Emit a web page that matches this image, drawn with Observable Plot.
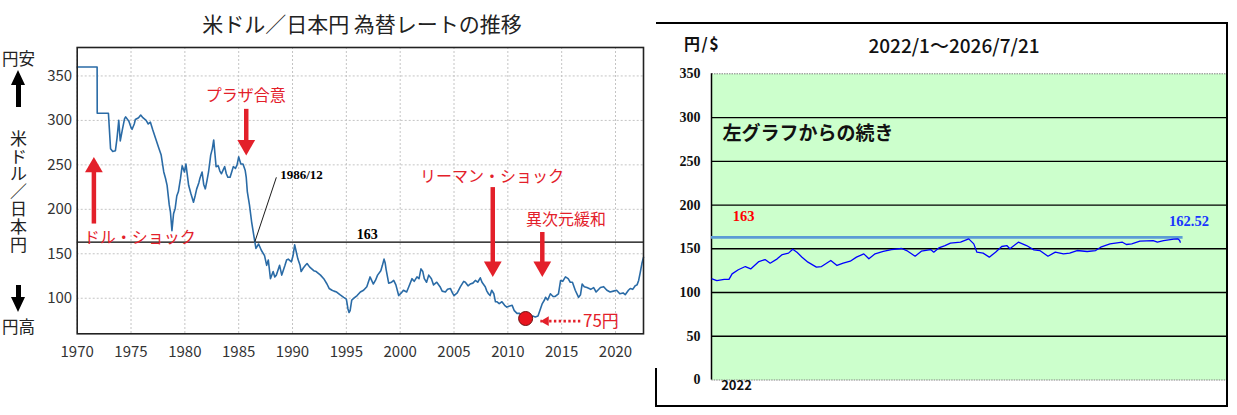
<!DOCTYPE html>
<html><head><meta charset="utf-8">
<script src="https://cdn.jsdelivr.net/npm/d3@7"></script>
<script src="https://cdn.jsdelivr.net/npm/@observablehq/plot@0.6"></script>
<style>
body{margin:0;background:#fff;}
#wrap{position:relative;width:1237px;height:415px;background:#fff;overflow:hidden;font-family:"Noto Sans CJK JP","Noto Sans",sans-serif;}
.abs{position:absolute;}
</style></head>
<body><div id="wrap"></div>
<script>
// ---------- LEFT CHART DATA (year, yen per dollar) ----------
const leftYears = [1970,1971.85,1971.86,1972.9,1973.1,1973.3,1973.55,1973.7,1973.86,1974.0,1974.2,1974.4,1974.5,1974.8,1975.0,1975.1,1975.3,1975.4,1975.7,1975.9,1976.1,1976.4,1976.6,1976.8,1977.0,1977.3,1977.6,1977.8,1978.04,1978.2,1978.35,1978.55,1978.66,1978.8,1978.95,1979.1,1979.25,1979.4,1979.6,1979.75,1979.96,1980.1,1980.35,1980.55,1980.8,1980.95,1981.1,1981.3,1981.4,1981.6,1981.75,1981.9,1982.05,1982.2,1982.4,1982.55,1982.68,1982.9,1983.1,1983.25,1983.4,1983.55,1983.7,1983.85,1984.0,1984.2,1984.35,1984.5,1984.7,1984.85,1985.0,1985.1,1985.2,1985.4,1985.6,1985.7,1985.8,1986.0,1986.2,1986.45,1986.6,1986.85,1987.1,1987.4,1987.6,1987.75,1987.95,1988.2,1988.35,1988.5,1988.8,1989.0,1989.3,1989.45,1989.6,1989.9,1990.05,1990.2,1990.35,1990.5,1990.7,1990.8,1991.0,1991.2,1991.35,1991.6,1991.97,1992.2,1992.4,1992.6,1992.9,1993.2,1993.4,1993.67,1993.85,1994.1,1994.4,1994.75,1995.0,1995.15,1995.25,1995.35,1995.5,1995.7,1996.0,1996.3,1996.6,1996.9,1997.2,1997.35,1997.5,1997.7,1997.9,1998.2,1998.35,1998.5,1998.6,1998.7,1998.93,1999.2,1999.4,1999.6,1999.86,2000.1,2000.3,2000.6,2000.8,2001.1,2001.3,2001.56,2001.75,2001.93,2002.1,2002.24,2002.45,2002.65,2002.9,2003.1,2003.4,2003.7,2003.9,2004.2,2004.4,2004.66,2004.85,2005.0,2005.3,2005.6,2005.9,2006.05,2006.3,2006.5,2006.75,2006.98,2007.2,2007.44,2007.6,2007.9,2008.05,2008.2,2008.35,2008.5,2008.7,2008.85,2009.0,2009.2,2009.45,2009.7,2009.9,2010.1,2010.4,2010.6,2010.85,2011.1,2011.3,2011.6,2011.8,2012.1,2012.3,2012.55,2012.8,2013.0,2013.2,2013.4,2013.5,2013.7,2013.95,2014.2,2014.4,2014.7,2014.9,2015.1,2015.35,2015.6,2015.8,2016.0,2016.26,2016.57,2016.75,2016.9,2017.1,2017.35,2017.7,2017.97,2018.2,2018.6,2018.9,2019.2,2019.5,2019.8,2020.1,2020.4,2020.7,2020.9,2021.2,2021.37,2021.6,2021.83,2022.0,2022.15,2022.3,2022.45,2022.6];
const leftRates = [360,360,308,308,268,265,266,280,300,277,290,302,304,299,292,290,296,301,303,306,303,300,296,298,290,279,268,261,242,235,227,205,197,176,195,201,215,220,235,249,242,251,227,218,208,215,223,230,235,242,228,223,232,242,261,268,278,248,249,243,240,244,248,240,236,236,242,248,246,250,259,255,251,251,244,236,220,205,186,167,156,161,154,148,137,143,122,130,124,126,137,126,137,143,144,141,148,160,152,144,137,130,134,137,139,135,131,130,128,126,122,116,111,109,108,107,104,101,99,88,84,86,98,100,103,107,109,113,124,120,116,120,126,131,137,144,140,132,117,118,120,115,103,106,109,107,113,122,119,124,122,133,130,122,118,126,122,115,118,113,108,107,110,111,106,103,106,113,119,118,114,116,117,120,118,123,118,113,108,105,103,109,105,96,96,94,96,92,90,91,92,86,83,83,79,77,78,78,80,79,80,87,94,98,101,98,105,102,102,105,120,119,124,122,118,118,109,101,104,116,113,112,110,112,107,112,113,109,107,108,109,105,106,104,109,111,110,114,115,120,129,139,146];
const leftXDomain = [1970, 2022.6];
const leftYDomain = [60, 382];
const leftXTicks = [1970,1975,1980,1985,1990,1995,2000,2005,2010,2015,2020];
const leftYTicks = [100,150,200,250,300,350];
const refLevel = [163];
// annotations (data units)
const arrowX = [1971.55, 1985.7, 2008.6, 2013.2];
const arrowFrom = [184, 313, 225, 174.5];
const arrowTo = [258.8, 260.7, 124, 124];
const noteText = ["ドル・ショック","プラザ合意","リーマン・ショック","異次元緩和"];
const noteX = [1975.8, 1985.65, 2008.53, 2015.39];
const noteY = [168, 328, 237, 188.4];
const minPoint = {year: 2011.65, rate: 77.2};
const minArrow = {x1: 2016.73, x2: 2013.02, y: 74.2};
const minLabel = {text: "75円", year: 2016.98, rate: 73.6};
const crossLabel = {text: "1986/12", year: 1988.85, rate: 239};
const crossLine = {x1: 1988.5, y1: 236, x2: 1986.5, y2: 163.5};
const levelLabel = {text: "163", year: 1996.93, rate: 171.7};

// ---------- RIGHT CHART DATA ----------
const rightDates = ["2022-01-03","2022-01-20","2022-02-15","2022-03-04","2022-03-15","2022-04-06","2022-05-01","2022-05-20","2022-06-18","2022-07-10","2022-07-28","2022-08-22","2022-09-09","2022-10-01","2022-10-16","2022-10-31","2022-11-18","2022-12-09","2023-01-08","2023-01-26","2023-02-28","2023-03-22","2023-04-13","2023-05-08","2023-05-30","2023-06-25","2023-07-13","2023-08-04","2023-09-02","2023-10-01","2023-11-06","2023-11-24","2023-12-24","2024-01-15","2024-02-17","2024-02-28","2024-03-17","2024-04-08","2024-04-27","2024-06-02","2024-07-01","2024-07-19","2024-07-30","2024-08-21","2024-09-12","2024-10-04","2024-10-26","2024-11-13","2024-11-24","2024-12-24","2025-01-22","2025-02-17","2025-03-10","2025-04-08","2025-05-04","2025-06-02","2025-06-24","2025-07-20","2025-08-25","2025-09-24","2025-10-12","2025-11-14","2025-12-28","2026-01-11","2026-01-30","2026-02-28","2026-04-16","2026-05-01","2026-05-23","2026-06-28","2026-07-13","2026-07-19","2026-07-21"];
const rightRates = [115.6,113.7,115,115,121.3,126,129.7,127,135.4,137.7,133.5,138.5,143.4,145,149.5,146,140.4,134.7,129,129.7,136.6,130.9,133.5,135.8,140.4,144.2,138.5,144.2,146.9,149.1,150.3,148,141.5,147.2,149.1,146.1,151,153.7,156.4,157.5,161.3,155.6,146.1,145,140.4,146.1,152.6,153.7,150,157.5,153.7,148.8,148,141.5,146.1,144.2,145,148,146.9,148,151.8,155.6,157.5,154.9,155.6,158.7,159.4,157.5,159.4,161,161.3,159.4,157.5];
const rightXDomain = ["2022-01-01","2027-01-01"];
const rightYDomain = [0, 350];
const rightYTicks = [0,50,100,150,200,250,300,350];
const rightGrid = [50,100,150,200,250,300];
const rightXTickLabels = ["2022"];
const rightLevelSpan = ["2022-01-01","2026-07-31"];
const rightLevelLabel = {text: "163", date: "2022-04-25", rate: 186.9};
const lastLabel = {text: "162.52", date: "2026-08-21", rate: 181.1};
const continueText = ["左グラフからの続き"];

const wrap = document.getElementById("wrap");
function addDiv(html, css){const d=document.createElement("div");d.className="abs";d.innerHTML=html;d.style.cssText+=css;wrap.appendChild(d);return d;}

// ---------- LEFT PLOT ----------
const leftData = leftYears.map((y,i)=>({year:y, rate:leftRates[i]}));
const arrows = arrowX.map((x,i)=>({x, from:arrowFrom[i], to:arrowTo[i], up: arrowTo[i] > arrowFrom[i]}));
const notes = noteText.map((t,i)=>({t, x:noteX[i], y:noteY[i]}));
const red = "#e3202a";
const serif = "'Liberation Serif','Times New Roman',serif";

const left = Plot.plot({
  width: 660, height: 370,
  marginLeft: 76.7, marginRight: 17, marginTop: 47, marginBottom: 36.7,
  style: {fontFamily: "'Noto Sans CJK JP','Noto Sans',sans-serif", fontSize: "15px", color: "#333", background: "transparent", overflow: "visible"},
  x: {domain: leftXDomain, label: null},
  y: {domain: leftYDomain, label: null},
  marks: [
    Plot.gridX(leftXTicks, {stroke: "#c4c4c4", strokeOpacity: 1, strokeDasharray: "2,2"}),
    Plot.gridY(leftYTicks, {stroke: "#c4c4c4", strokeOpacity: 1, strokeDasharray: "2,2"}),
    Plot.axisX(leftXTicks, {tickSize: 0, tickPadding: 13, tickFormat: d => String(d), label: null, fontSize: 15, fill: "#333"}),
    Plot.axisY(leftYTicks, {tickSize: 0, tickPadding: 5, tickFormat: d => String(d), label: null, fontSize: 15, fill: "#333"}),
    Plot.ruleY(refLevel, {stroke: "#000", strokeWidth: 1.3}),
    Plot.line(leftData, {x: "year", y: "rate", stroke: "#2a6ba6", strokeWidth: 1.6}),
    Plot.frame({stroke: "#222", strokeWidth: 1.6}),
    Plot.link([crossLine], {x1: "x1", y1: "y1", x2: "x2", y2: "y2", stroke: "#000", strokeWidth: 0.9}),
    Plot.text([crossLabel], {x: "year", y: "rate", text: "text", textAnchor: "start", fontFamily: serif, fontWeight: "bold", fontSize: 13, fill: "#000"}),
    Plot.text([levelLabel], {x: "year", y: "rate", text: "text", fontFamily: serif, fontWeight: "bold", fontSize: 14, fill: "#000"}),
    Plot.arrow(arrows, {x: "x", y1: "from", y2: "to", headLength: 0, insetEnd: 8, stroke: red, strokeWidth: 4.5, strokeLinecap: "butt"}),
    Plot.dot(arrows, {x: "x", y: "to", symbol: "triangle", r: 6.6, fill: red, stroke: "none", rotate: d => d.up ? 0 : 180}),
    Plot.text(notes, {x: "x", y: "y", text: "t", fill: red, fontSize: 16}),
    Plot.dot([minPoint], {x: "year", y: "rate", r: 7, fill: "#e8141e", stroke: "#6b1010", strokeWidth: 1}),
    Plot.link([minArrow], {x1: "x1", x2: "x2", y1: "y", y2: "y", stroke: red, strokeWidth: 2.6, strokeDasharray: "2.4,2.4"}),
    Plot.dot([minArrow], {x: "x2", y: "y", symbol: "triangle", r: 3.6, rotate: -90, fill: red, stroke: "none"}),
    Plot.text([minLabel], {x: "year", y: "rate", text: "text", textAnchor: "start", fill: red, fontSize: 17})
  ]
});
left.style.position = "absolute"; left.style.left = "0px"; left.style.top = "0px";
wrap.appendChild(left);
// shift triangle heads so their tips land on the arrow end points
(function(){
  const gs = left.querySelectorAll("g[aria-label='dot']");
  const heads = gs[0];
  if (heads) heads.querySelectorAll("path").forEach((p,i)=>{
    const up = arrows[i].up;
    const t = p.getAttribute("transform") || "";
    p.setAttribute("transform", `translate(0,${up?10.2:-10.2}) ` + t);
  });
  const tip = gs[2];
  if (tip) tip.querySelectorAll("path").forEach(p=>{
    const t = p.getAttribute("transform") || "";
    p.setAttribute("transform", `translate(5.6,0) ` + t);
  });
})();

// left title & axis decorations
addDiv("米ドル／日本円 為替レートの推移", "left:162px;top:8px;width:400px;text-align:center;font-size:21px;line-height:30px;color:#222;");
addDiv("円安", "left:0px;top:46px;width:37px;text-align:center;font-size:16.5px;line-height:24px;color:#222;");
addDiv("円高", "left:0px;top:314px;width:37px;text-align:center;font-size:16.5px;line-height:24px;color:#222;");
addDiv("", "left:10.5px;top:70px;width:0;height:0;border-left:7.5px solid transparent;border-right:7.5px solid transparent;border-bottom:15px solid #000;");
addDiv("", "left:15.5px;top:84px;width:5px;height:23px;background:#000;");
addDiv("", "left:15.5px;top:285px;width:5px;height:13px;background:#000;");
addDiv("", "left:10.5px;top:297px;width:0;height:0;border-left:7.5px solid transparent;border-right:7.5px solid transparent;border-top:15px solid #000;");
addDiv("米ドル／日本円", "left:6px;top:130px;width:24px;height:124px;font-size:17px;line-height:24px;letter-spacing:0.6px;color:#222;writing-mode:vertical-rl;text-orientation:upright;font-feature-settings:'vert' 0,'vrt2' 0;");

// ---------- RIGHT PLOT ----------
const rightData = rightDates.map((d,i)=>({date:new Date(d), rate:rightRates[i]}));
const rdom = rightXDomain.map(d=>new Date(d));
const right = Plot.plot({
  width: 587, height: 415,
  marginLeft: 61, marginRight: 11, marginTop: 73.3, marginBottom: 35.5,
  style: {fontFamily: serif, fontSize: "14px", color: "#111", background: "transparent", overflow: "visible"},
  x: {type: "utc", domain: rdom, axis: null, label: null},
  y: {domain: rightYDomain, label: null},
  marks: [
    Plot.frame({fill: "#ccffcc", stroke: "#808080", strokeDasharray: "1.5,1"}),
    Plot.gridY(rightGrid, {stroke: "#000", strokeOpacity: 1, strokeWidth: 1.3}),
    Plot.ruleX([rdom[0]], {stroke: "#000", strokeWidth: 1.5}),
    Plot.axisY(rightYTicks, {tickSize: 0, tickPadding: 11, fontWeight: "bold", fontFamily: serif, fontSize: 14, fill: "#111", label: null}),
    Plot.ruleY([refLevel[0]], {x1: () => new Date(rightLevelSpan[0]), x2: () => new Date(rightLevelSpan[1]), stroke: "#5b9bd5", strokeWidth: 2.6}),
    Plot.line(rightData, {x: "date", y: "rate", stroke: "#0000ff", strokeWidth: 1.3}),
    Plot.text([rightLevelLabel], {x: d => new Date(d.date), y: "rate", text: "text", fill: "#ff0000", fontWeight: "bold", fontFamily: serif, fontSize: 14.5}),
    Plot.text([lastLabel], {x: d => new Date(d.date), y: "rate", text: "text", fill: "#1a35ff", fontWeight: "bold", fontFamily: serif, fontSize: 14.5}),
    Plot.text(continueText, {frameAnchor: "top-left", dx: 11, dy: 60, textAnchor: "start", lineAnchor: "middle", fontFamily: "'Noto Sans CJK JP',sans-serif", fontWeight: "bold", fontSize: 19, fill: "#111"}),
    Plot.text(rightXTickLabels, {frameAnchor: "bottom-left", dx: 25, dy: 10, textAnchor: "middle", fontFamily: "'Noto Sans CJK JP',sans-serif", fontWeight: "bold", fontSize: 13, fill: "#111"})
  ]
});
right.style.position = "absolute"; right.style.left = "650px"; right.style.top = "0px";
wrap.appendChild(right);

// right frame box and header
addDiv("", "left:656px;top:22px;width:572px;height:385px;box-sizing:border-box;border-top:2px solid #000;border-right:2px solid #000;border-bottom:2px solid #000;");
addDiv("", "left:655px;top:368px;width:2px;height:39px;background:#000;");
addDiv("円/$", "left:684px;top:31px;font-size:16px;line-height:24px;font-weight:bold;letter-spacing:1.5px;color:#111;");
addDiv("2022/1～2026/7/21", "left:804px;top:31px;width:300px;text-align:center;font-size:19px;line-height:28px;font-weight:500;color:#111;");
</script></body></html>
